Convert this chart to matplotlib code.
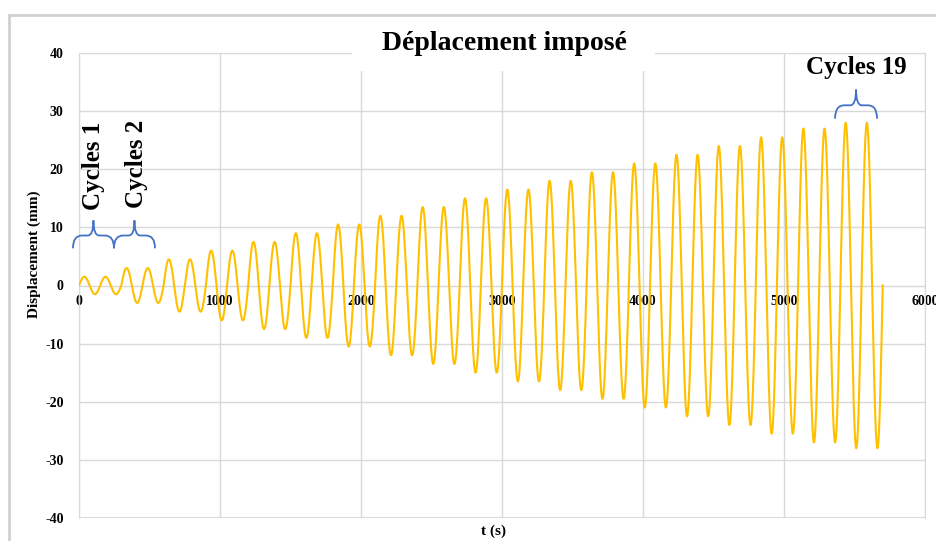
import numpy as np
import matplotlib
matplotlib.use("Agg")
import matplotlib.pyplot as plt
from matplotlib.path import Path
from matplotlib.patches import PathPatch, Rectangle

plt.rcParams["axes.unicode_minus"] = False

# ---- data ----
amplitudes = [1.5, 3, 4.5, 6, 7.5, 9, 10.5, 12, 13.5, 15, 16.5, 18,
              19.5, 21, 22.5, 24, 25.5, 27, 28]   # mm, one level per 2 cycles
cycles_per_level = 2
period = 150.0  # s
x_ticks = [0, 1000, 2000, 3000, 4000, 5000, 6000]
y_ticks = [-40, -30, -20, -10, 0, 10, 20, 30, 40]
title = "Déplacement imposé"
xlabel = "t (s)"
ylabel = "Displacement (mm)"

# build signal
ts, ys = [], []
t0 = 0.0
for a in amplitudes:
    dur = cycles_per_level * period
    t = np.linspace(t0, t0 + dur, 400)
    ts.append(t)
    ys.append(a * np.sin(2 * np.pi * (t - t0) / period))
    t0 += dur
t = np.concatenate(ts)
y = np.concatenate(ys)

W, H = 937, 541
fig = plt.figure(figsize=(W / 100, H / 100), dpi=100)
serif = ["Liberation Serif", "DejaVu Serif"]

def fx(px):
    return px / W

def fy(py):
    return 1 - py / H

ax = fig.add_axes([fx(79), fy(518), fx(925) - fx(79), fy(53) - fy(518)])
ax.set_xlim(0, 6000)
ax.set_ylim(-40, 40)
grid_c = "#D9D9D9"
for s in ["top", "right", "left"]:
    ax.spines[s].set_color(grid_c)
ax.spines["bottom"].set_position(("data", 0))
ax.spines["bottom"].set_color(grid_c)
ax.set_xticks(x_ticks)
ax.set_yticks(y_ticks)
ax.grid(True, color=grid_c, lw=1)
ax.set_axisbelow(True)
ax.tick_params(length=0)
ax.tick_params(axis="x", pad=7)
ax.tick_params(axis="y", pad=11)
for lab in ax.get_xticklabels() + ax.get_yticklabels():
    lab.set_fontfamily(serif)
    lab.set_fontweight("bold")
    lab.set_fontsize(10)
for lab in ax.get_xticklabels():
    lab.set_clip_on(False)

ax.plot(t, y, color="#FFC000", lw=1.5, zorder=3)

ax.axhline(-40, color=grid_c, lw=1.5, zorder=1)

# labels
fig.text(fx(34), fy(254), ylabel, rotation=90, ha="center", va="center",
         fontfamily=serif, fontweight="bold", fontsize=11)
fig.text(fx(494), fy(531), xlabel, ha="center", va="center",
         fontfamily=serif, fontweight="bold", fontsize=11)

# title with white background
fig.add_artist(Rectangle((fx(352), fy(71)), fx(655) - fx(352), fy(30) - fy(71),
                         transform=fig.transFigure, facecolor="white",
                         edgecolor="none", zorder=5))
fig.text(fx(504), fy(43), title, ha="center", va="center",
         fontfamily=serif, fontweight="bold", fontsize=20, zorder=6)

# outer border
fig.add_artist(Rectangle((fx(9), fy(560)), fx(960) - fx(9), fy(15) - fy(560),
                         transform=fig.transFigure, facecolor="none",
                         edgecolor="#D0D0D0", lw=2, zorder=7))

# braces
def brace(x0, x1, yb, ym, yt):
    w = x1 - x0
    xm = (x0 + x1) / 2
    verts = [(x0, yb), (x0, ym), (x0 + 0.22 * w, ym),
             (xm - 0.14 * w, ym),
             (xm, ym), (xm, yt),
             (xm, ym), (xm + 0.14 * w, ym),
             (x1 - 0.22 * w, ym),
             (x1, ym), (x1, yb)]
    codes = [Path.MOVETO, Path.CURVE3, Path.CURVE3,
             Path.LINETO,
             Path.CURVE3, Path.CURVE3,
             Path.CURVE3, Path.CURVE3,
             Path.LINETO,
             Path.CURVE3, Path.CURVE3]
    p = PathPatch(Path(verts, codes), facecolor="none", edgecolor="#4472C4",
                  lw=1.3, clip_on=False, zorder=4)
    ax.add_patch(p)

brace(-43, 248, 6.4, 8.6, 11.2)
brace(248, 539, 6.4, 8.6, 11.2)
brace(5362, 5660, 28.7, 31.0, 33.7)

ax.text(106, 20.5, "Cycles 1", rotation=90, ha="center", va="center",
        fontfamily=serif, fontweight="bold", fontsize=18)
ax.text(410, 21.0, "Cycles 2", rotation=90, ha="center", va="center",
        fontfamily=serif, fontweight="bold", fontsize=18)
ax.text(5510, 37.5, "Cycles 19", ha="center", va="center",
        fontfamily=serif, fontweight="bold", fontsize=18)

fig.savefig("out.png", dpi=100, facecolor="white")
